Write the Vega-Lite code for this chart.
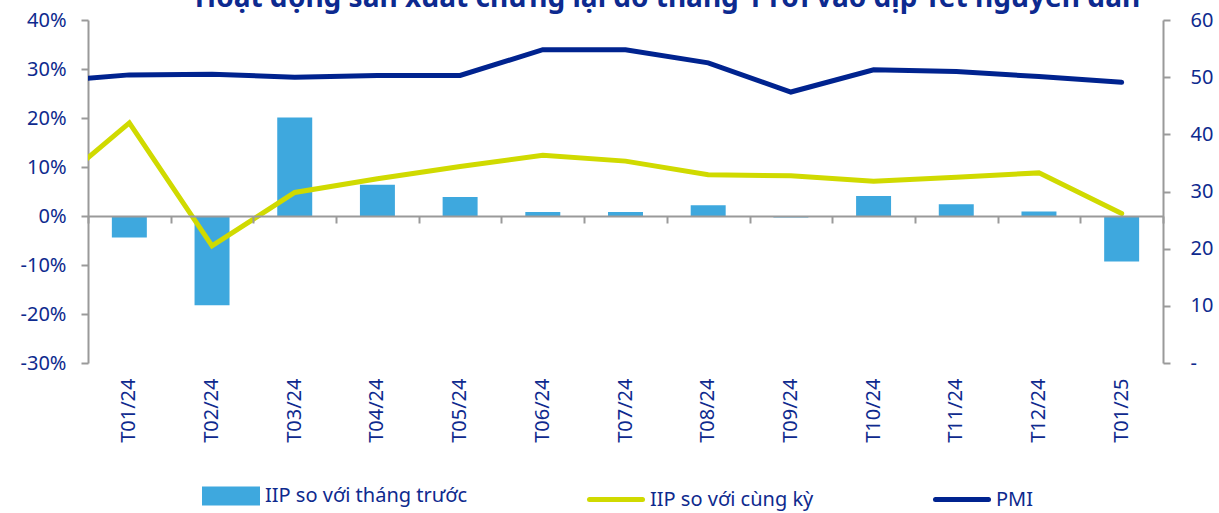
{
  "$schema": "https://vega.github.io/schema/vega-lite/v6.json",
  "width": 1075,
  "height": 343,
  "autosize": {"type": "none"},
  "padding": {"left": 88, "top": 20, "right": 56, "bottom": 150},
  "background": "white",
  "config": {
    "view": {"stroke": null},
    "font": "Noto Sans",
    "axis": {"grid": false, "domainColor": "#9a9a9a", "tickColor": "#9a9a9a", "domainWidth": 2, "tickWidth": 2, "labelColor": "#0e2a8e", "labelFontSize": 20}
  },
  "title": {
    "text": "Hoạt động sản xuất chững lại do tháng 1 rơi vào dịp Tết nguyên đán",
    "fontSize": 28, "fontWeight": "bold", "color": "#0d2a8f", "anchor": "middle", "frame": "group", "dx": 42, "dy": 25, "offset": 0, "baseline": "alphabetic"
  },
  "data": {"values": [
    {"i": -1, "label": "T12/23", "mom": null, "yoy": 4.8, "pmi": 49.2},
    {"i": 0, "label": "T01/24", "mom": -4.4, "yoy": 19.0, "pmi": 50.4},
    {"i": 1, "label": "T02/24", "mom": -18.2, "yoy": -6.1, "pmi": 50.5},
    {"i": 2, "label": "T03/24", "mom": 20.1, "yoy": 4.8, "pmi": 50.0},
    {"i": 3, "label": "T04/24", "mom": 6.4, "yoy": 7.6, "pmi": 50.3},
    {"i": 4, "label": "T05/24", "mom": 3.9, "yoy": 10.1, "pmi": 50.3},
    {"i": 5, "label": "T06/24", "mom": 0.8, "yoy": 12.4, "pmi": 54.8},
    {"i": 6, "label": "T07/24", "mom": 0.8, "yoy": 11.2, "pmi": 54.8},
    {"i": 7, "label": "T08/24", "mom": 2.2, "yoy": 8.4, "pmi": 52.5},
    {"i": 8, "label": "T09/24", "mom": -0.3, "yoy": 8.2, "pmi": 47.4},
    {"i": 9, "label": "T10/24", "mom": 4.1, "yoy": 7.1, "pmi": 51.3},
    {"i": 10, "label": "T11/24", "mom": 2.4, "yoy": 7.9, "pmi": 51.0},
    {"i": 11, "label": "T12/24", "mom": 0.9, "yoy": 8.8, "pmi": 50.1},
    {"i": 12, "label": "T01/25", "mom": -9.3, "yoy": 0.5, "pmi": 49.1}
  ]},
  "layer": [
    {
      "transform": [{"filter": "isValid(datum.mom)"}],
      "mark": {"type": "bar"},
      "encoding": {
        "x": {"field": "label", "type": "nominal", "sort": null,
          "scale": {"paddingInner": 0.577, "paddingOuter": 0.2885},
          "axis": {"orient": "bottom", "labelAngle": -90, "labelAlign": "right", "labelBaseline": "middle", "ticks": false, "domain": false, "labelPadding": 15, "title": null}},
        "y": {"field": "mom", "type": "quantitative",
          "scale": {"domain": [-30, 40], "nice": false},
          "axis": {"orient": "left", "values": [-30, -20, -10, 0, 10, 20, 30, 40], "labelExpr": "datum.value + '%'", "tickSize": 7, "labelPadding": 15, "title": null}},
        "color": {"datum": "IIP so với tháng trước", "type": "nominal",
          "scale": {"domain": ["IIP so với tháng trước", "IIP so với cùng kỳ", "PMI"], "range": ["#3ea8de", "#d0da00", "#00238f"]},
          "legend": {"orient": "none", "legendX": 114, "legendY": 447, "direction": "horizontal", "title": null, "padding": 0,
            "symbolSize": 2809, "labelFontSize": 20, "labelColor": "#0e2a8e", "labelOffset": 5, "columnPadding": 111, "labelLimit": 400,
            "encode": {"symbols": {"update": {
              "shape": {"signal": "datum.value === 'IIP so với tháng trước' ? 'M-1,-0.264H1V0.264H-1Z' : 'M-1,0H1'"},
              "fill": {"signal": "datum.value === 'IIP so với tháng trước' ? '#3ea8de' : 'transparent'"},
              "stroke": {"signal": "datum.value === 'IIP so với tháng trước' ? 'transparent' : (datum.value === 'PMI' ? '#00238f' : '#d0da00')"},
              "strokeWidth": {"value": 5},
              "strokeCap": {"value": "round"},
              "opacity": {"value": 1}
            }}}}
        }
      }
    },
    {
      "mark": {"type": "line", "strokeWidth": 5, "clip": true, "strokeCap": "round"},
      "encoding": {
        "x": {"field": "i", "type": "quantitative",
          "scale": {"domain": [-0.5, 12.5], "nice": false, "zero": false},
          "axis": {"orient": "bottom", "values": [-0.5, 0.5, 1.5, 2.5, 3.5, 4.5, 5.5, 6.5, 7.5, 8.5, 9.5, 10.5, 11.5, 12.5], "labels": false, "tickSize": 7, "offset": -147, "zindex": 1, "title": null}},
        "y": {"field": "yoy", "type": "quantitative", "scale": {"domain": [-30, 40], "nice": false}, "axis": null},
        "color": {"datum": "IIP so với cùng kỳ", "type": "nominal"}
      }
    },
    {
      "mark": {"type": "line", "strokeWidth": 5, "clip": true, "strokeCap": "round"},
      "encoding": {
        "x": {"field": "i", "type": "quantitative", "scale": {"domain": [-0.5, 12.5], "nice": false, "zero": false}, "axis": null},
        "y": {"field": "pmi", "type": "quantitative", "scale": {"domain": [0, 60], "nice": false},
          "axis": {"orient": "right", "values": [0, 10, 20, 30, 40, 50, 60], "labelExpr": "datum.value == 0 ? '-' : datum.label", "tickSize": 7, "labelPadding": 20, "title": null}},
        "color": {"datum": "PMI", "type": "nominal"}
      }
    }
  ],
  "resolve": {"scale": {"x": "independent", "y": "independent"}}
}
